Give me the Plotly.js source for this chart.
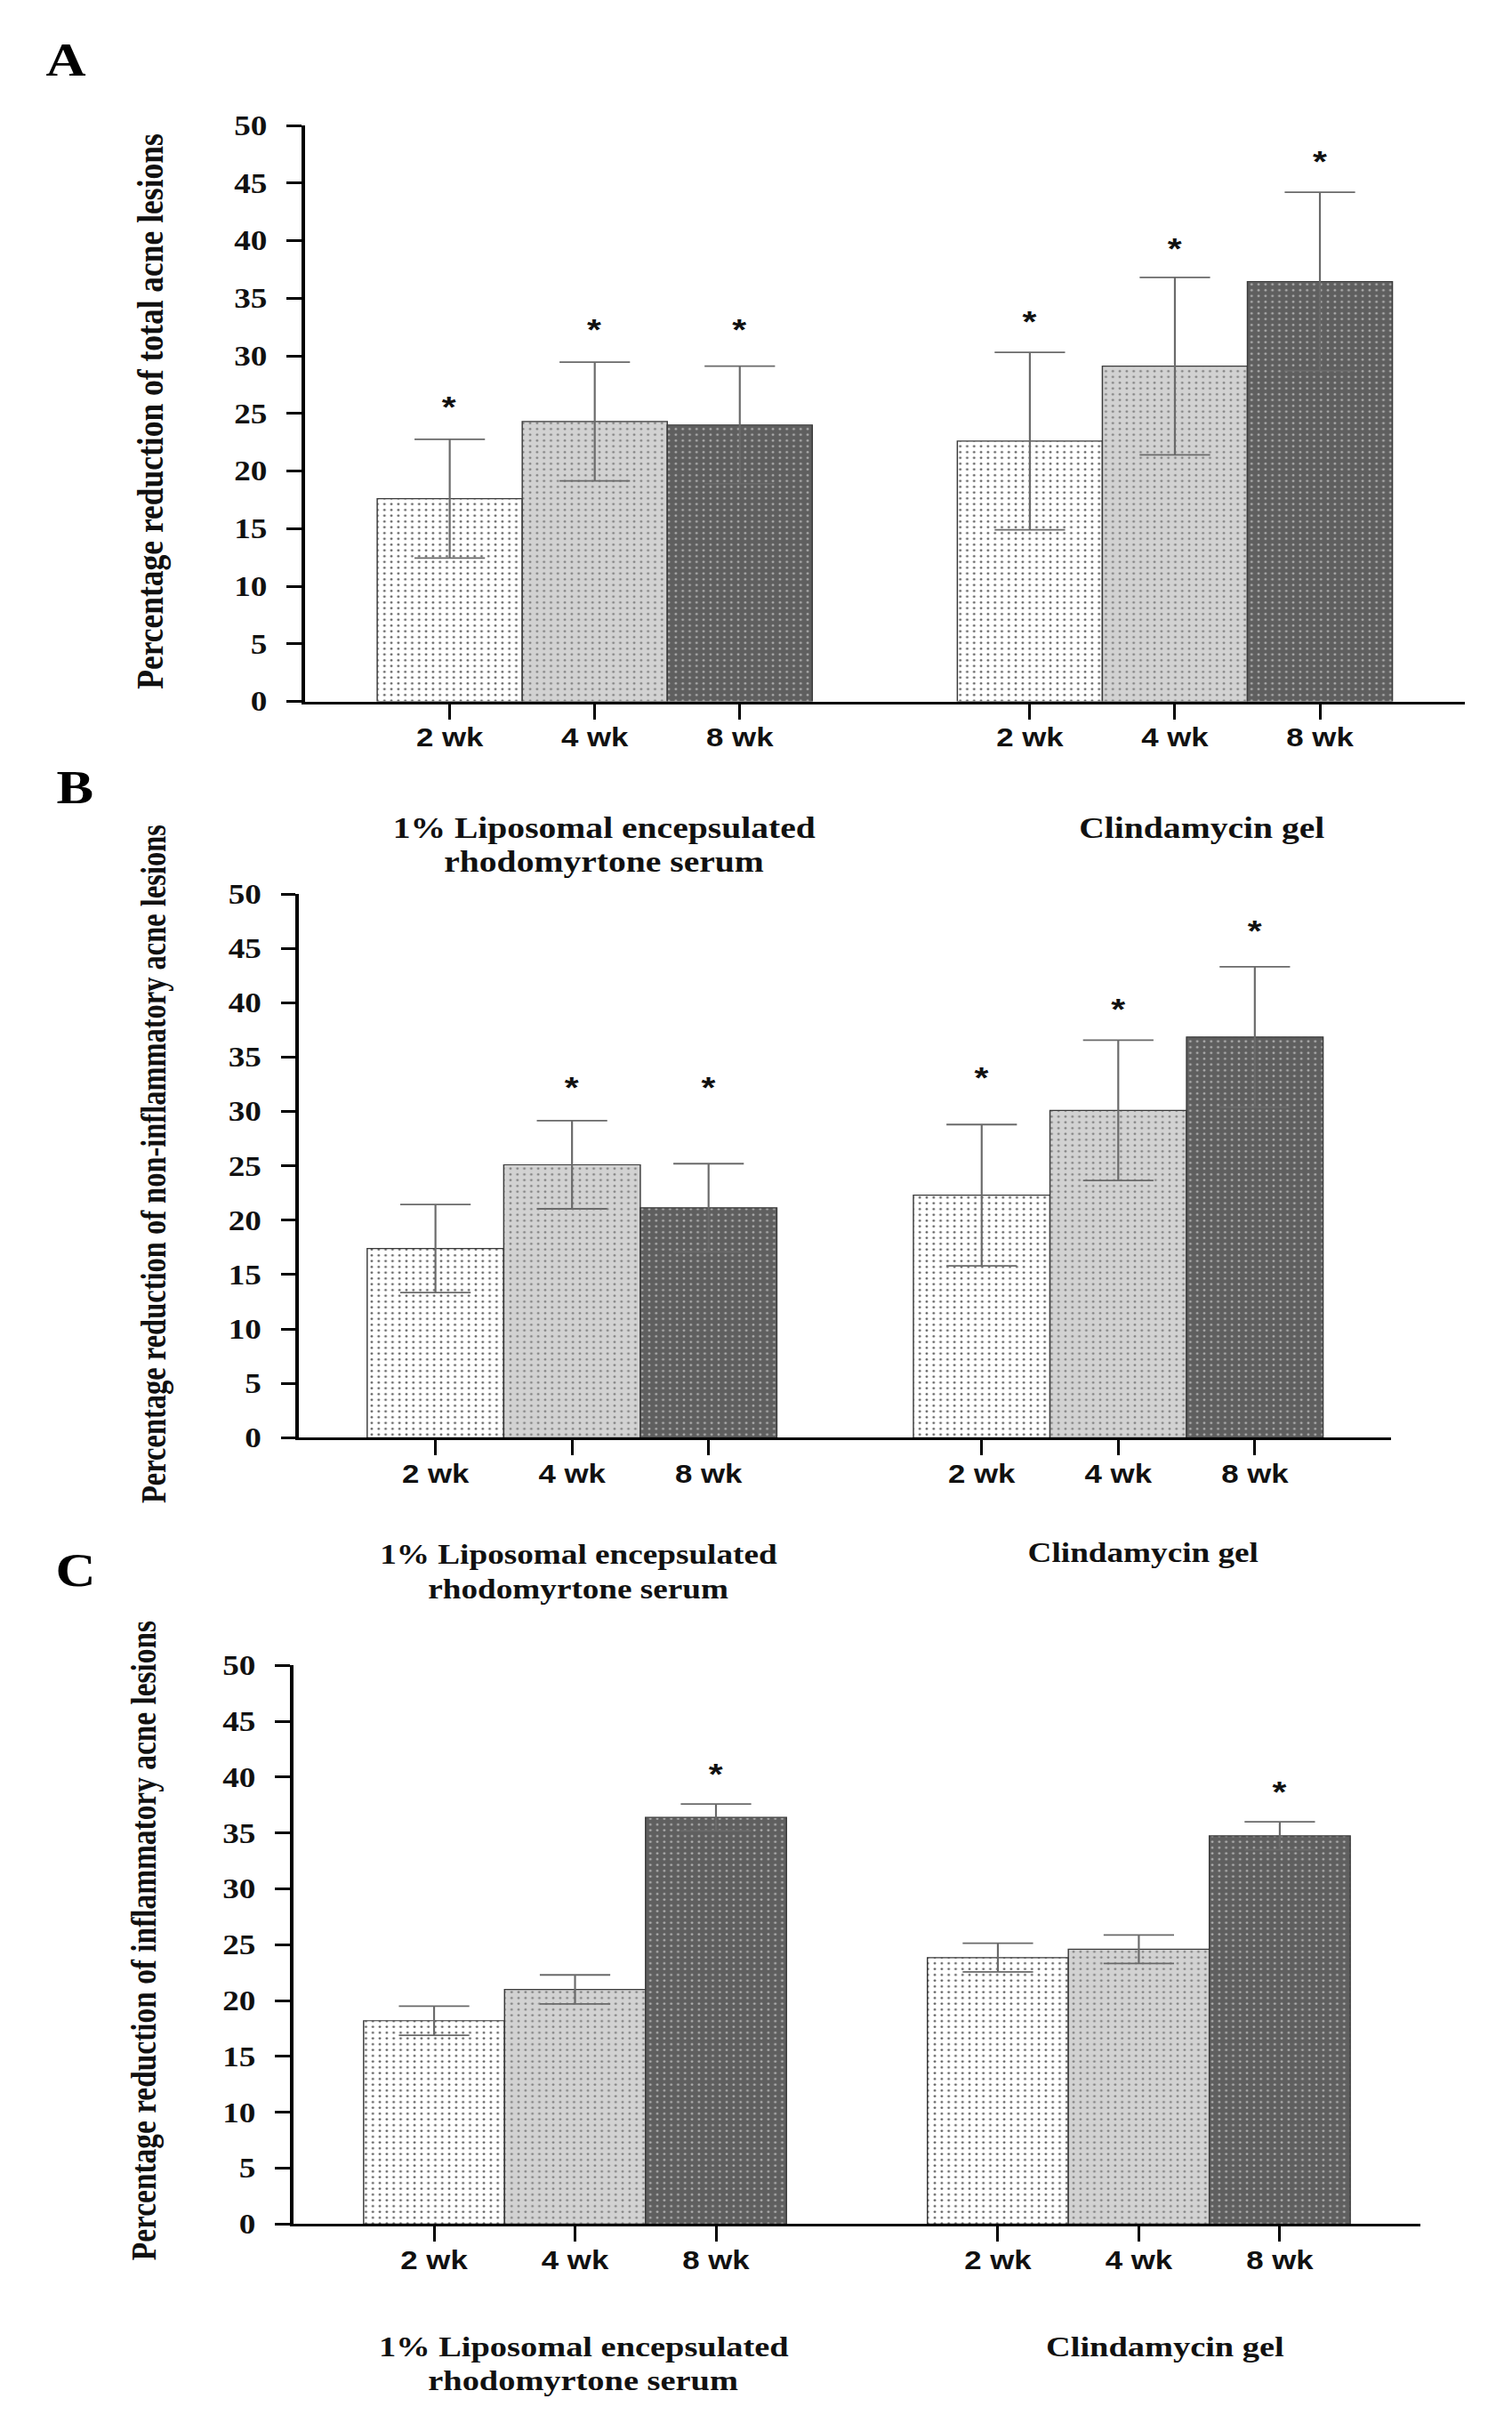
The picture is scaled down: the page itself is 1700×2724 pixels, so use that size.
<!DOCTYPE html>
<html><head><meta charset="utf-8">
<script src="https://cdn.plot.ly/plotly-3.0.1.min.js"></script>
<style>
html,body{margin:0;padding:0;background:#fff;overflow:hidden;width:1700px;height:2724px}
#chart{width:1417px;height:2724px;transform:scaleX(1.2);transform-origin:0 0;}
</style>
</head><body><div id="chart"></div>
<script>
// ---------- data ----------
const weeks = ["2 wk", "4 wk", "8 wk"];
const groupLine1 = ["1% Liposomal encepsulated", "Clindamycin gel"];
const groupLine2 = ["rhodomyrtone serum", ""];
const panelLetters = ["A", "B", "C"];
const yTitles = [
  "Percentage reduction of total acne lesions",
  "Percentage reduction of non-inflammatory acne lesions",
  "Percentage reduction of inflammatory acne lesions"
];
const yTicks = [0, 5, 10, 15, 20, 25, 30, 35, 40, 45, 50];

// Panel A: total acne lesions
const totalLipo = [17.6, 24.3, 24.0];
const totalLipoErr = [5.15, 5.15, 5.1];
const totalClin = [22.6, 29.1, 36.45];
const totalClinErr = [7.7, 7.7, 7.75];
const totalLipoStar = [26.2, 32.9, 32.9];
const totalClinStar = [33.6, 40.0, 47.5];

// Panel B: non-inflammatory acne lesions
const nonInfLipo = [17.4, 25.1, 21.15];
const nonInfLipoErr = [4.05, 4.05, 4.05];
const nonInfClin = [22.3, 30.1, 36.85];
const nonInfClinErr = [6.5, 6.45, 6.45];
const nonInfLipoStar = [null, 32.9, 32.9];
const nonInfClinStar = [33.8, 40.1, 47.3];

// Panel C: inflammatory acne lesions
const infLipo = [18.2, 21.0, 36.4];
const infLipoErr = [1.3, 1.3, 1.2];
const infClin = [23.85, 24.6, 34.75];
const infClinErr = [1.28, 1.27, 1.25];
const infLipoStar = [null, null, 40.95];
const infClinStar = [null, null, 39.4];

// ---------- styling / layout ----------
const panels = [
  {lipo: totalLipo, lipoErr: totalLipoErr, clin: totalClin, clinErr: totalClinErr, lipoStar: totalLipoStar, clinStar: totalClinStar},
  {lipo: nonInfLipo, lipoErr: nonInfLipoErr, clin: nonInfClin, clinErr: nonInfClinErr, lipoStar: nonInfLipoStar, clinStar: nonInfClinStar},
  {lipo: infLipo, lipoErr: infLipoErr, clin: infClin, clinErr: infClinErr, lipoStar: infLipoStar, clinStar: infClinStar}
];
const H = 2724, W = 1700;
const geom = [
  {xd: [342.5, 1646.7], yd: [141, 788.6], title: [169, 462, 35.5], letter: [74, 68],
   g1: [679, 931, 969], g2: [1351, 931], gsize: 33},
  {xd: [336, 1564], yd: [1005, 1616.4], title: [173, 1309, 32.5], letter: [85, 886],
   g1: [650, 1747, 1786], g2: [1285, 1745], gsize: 31},
  {xd: [329.5, 1597], yd: [1872.4, 2500.3], title: [161, 2182, 33.4], letter: [85, 1765],
   g1: [656, 2638, 2676], g2: [1310, 2638], gsize: 32}
];
const fills = [
  {bg: "#ffffff", fg: "#555555"},
  {bg: "#d2d2d2", fg: "#7c7c7c"},
  {bg: "#5f5f5f", fg: "#b4b4b4"}
];
const serif = "Liberation Serif, Times New Roman, serif";
const sans = "Liberation Sans, Arial, sans-serif";
const px = v => v / W;
const py = v => 1 - v / H;

const data = [];
const annotations = [];
const layout = {
  width: 1417, height: 2724,
  margin: {l: 0, r: 0, t: 0, b: 0},
  paper_bgcolor: "#ffffff", plot_bgcolor: "rgba(0,0,0,0)",
  showlegend: false, barmode: "overlay",
  annotations: annotations
};

panels.forEach((p, pi) => {
  const g = geom[pi];
  const sfx = pi === 0 ? "" : String(pi + 1);
  weeks.forEach((wk, wi) => {
    data.push({
      type: "bar",
      x: [wi, 4 + wi],
      y: [p.lipo[wi], p.clin[wi]],
      width: 1,
      xaxis: "x" + sfx, yaxis: "y" + sfx,
      marker: {
        color: fills[wi].bg,
        line: {color: "#3a3a3a", width: 1.2},
        pattern: {shape: ".", fgcolor: fills[wi].fg, bgcolor: fills[wi].bg, size: 6.5, solidity: 0.1, fillmode: "replace"}
      },
      error_y: {type: "data", array: [p.lipoErr[wi], p.clinErr[wi]], visible: true,
                color: "#6a6a6a", thickness: 1.8, width: 33},
      hoverinfo: "skip"
    });
    [[p.lipoStar[wi], wi], [p.clinStar[wi], 4 + wi]].forEach(([sv, xv]) => {
      if (sv !== null) {
        annotations.push({xref: "x" + sfx, yref: "y" + sfx, x: xv, y: sv, text: "*",
          showarrow: false, xanchor: "center", yanchor: "middle", yshift: -8,
          font: {family: sans, size: 34, color: "#111", weight: "bold"}});
      }
    });
  });
  layout["xaxis" + sfx] = {
    domain: [px(g.xd[0]), px(g.xd[1])], anchor: "y" + sfx,
    range: [-1, 7], tickmode: "array", tickvals: [0, 1, 2, 4, 5, 6],
    ticktext: weeks.concat(weeks),
    showline: true, linecolor: "#000", linewidth: 3,
    ticks: "outside", ticklen: 17, tickwidth: 2.5, tickcolor: "#000",
    ticklabelstandoff: -4,
    showgrid: false, zeroline: false, fixedrange: true,
    tickfont: {family: sans, size: 29, color: "#111", weight: "bold"}
  };
  layout["yaxis" + sfx] = {
    domain: [py(g.yd[1]), py(g.yd[0])], anchor: "x" + sfx,
    range: [0, 50], tickmode: "array", tickvals: yTicks,
    showline: true, linecolor: "#000", linewidth: 3,
    ticks: "outside", ticklen: 14, tickwidth: 3, tickcolor: "#000",
    ticklabelstandoff: 12,
    showgrid: false, zeroline: false, fixedrange: true,
    tickfont: {family: serif, size: 31, color: "#111", weight: "bold"}
  };
  // y-axis title
  annotations.push({xref: "paper", yref: "paper", x: px(g.title[0]), y: py(g.title[1]),
    text: yTitles[pi], textangle: -90, showarrow: false, xanchor: "center", yanchor: "middle",
    font: {family: serif, size: g.title[2], color: "#111", weight: "bold"}});
  // panel letter
  annotations.push({xref: "paper", yref: "paper", x: px(g.letter[0]), y: py(g.letter[1]),
    text: panelLetters[pi], showarrow: false, xanchor: "center", yanchor: "middle",
    font: {family: serif, size: 52, color: "#000", weight: "bold"}});
  // group labels
  annotations.push({xref: "paper", yref: "paper", x: px(g.g1[0]), y: py(g.g1[1]),
    text: groupLine1[0], showarrow: false, xanchor: "center", yanchor: "middle",
    font: {family: serif, size: g.gsize, color: "#111", weight: "bold"}});
  annotations.push({xref: "paper", yref: "paper", x: px(g.g1[0]), y: py(g.g1[2]),
    text: groupLine2[0], showarrow: false, xanchor: "center", yanchor: "middle",
    font: {family: serif, size: g.gsize, color: "#111", weight: "bold"}});
  annotations.push({xref: "paper", yref: "paper", x: px(g.g2[0]), y: py(g.g2[1]),
    text: groupLine1[1], showarrow: false, xanchor: "center", yanchor: "middle",
    font: {family: serif, size: g.gsize, color: "#111", weight: "bold"}});
});

Plotly.newPlot("chart", data, layout, {staticPlot: true, displayModeBar: false});
</script>
</body></html>
